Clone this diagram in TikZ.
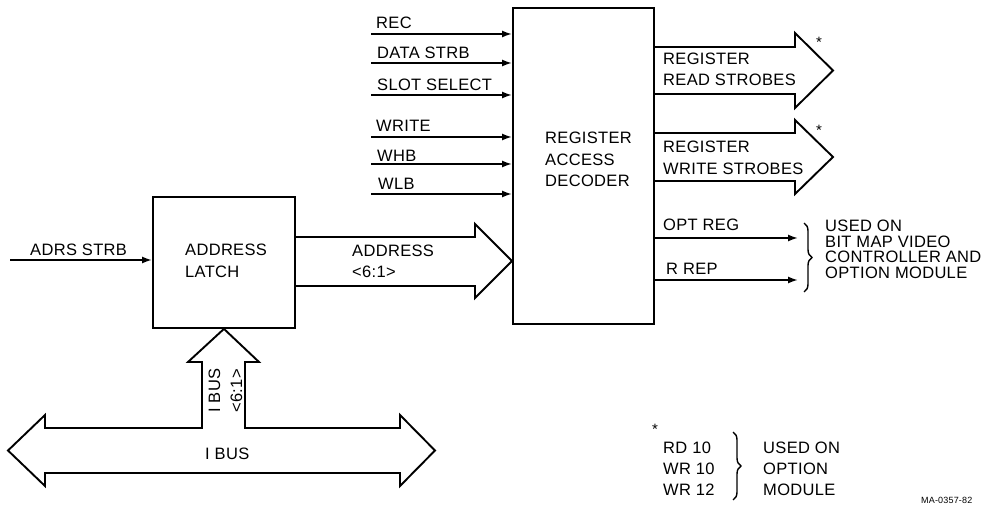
\documentclass[tikz,border=0pt]{standalone}
\usepackage{fontspec}
\setmainfont{Liberation Sans}[LetterSpace=2]
\usetikzlibrary{arrows.meta,decorations.pathreplacing}
\begin{document}
\begin{tikzpicture}[x=1pt,y=-1pt,
  txt/.style={font=\fontsize{16.5}{20}\selectfont, inner sep=0pt, anchor=base west},
  star/.style={font=\fontsize{15}{15}\selectfont, inner sep=0pt},
  box/.style={draw, line width=1.9pt, inner sep=0pt, anchor=north west},
  sig/.style={line width=1.7pt, -{Latex[length=10pt,width=7pt]}},
  bus/.style={draw, line width=1.9pt, line join=miter},
  brc/.style={decorate, decoration={brace, amplitude=8pt}, line width=1.4pt}]
\useasboundingbox (0,0) rectangle (991,505);

% blocks
\node[box, minimum width=142pt, minimum height=131pt] (latch) at (152,196) {};
\node[box, minimum width=141pt, minimum height=316pt] (dec) at (512,7) {};

% decoder inputs
\coordinate (iREC) at (371,34);
\coordinate (iDS) at (371,63);
\coordinate (iSS) at (371,95);
\coordinate (iWR) at (371,137);
\coordinate (iWHB) at (371,164);
\coordinate (iWLB) at (371,194);
\foreach \c in {iREC,iDS,iSS,iWR,iWHB,iWLB}
  \draw[sig] (\c) -- (\c -| dec.west);
\node[txt] (tREC) at (376,29) {REC};
\node[txt] (tDS) at (377,59) {DATA STRB};
\node[txt] (tSS) at (377,91) {SLOT SELECT};
\node[txt] (tWR) at (376,132) {WRITE};
\node[txt] (tWHB) at (377,162) {WHB};
\node[txt] (tWLB) at (378,190) {WLB};

% latch input
\coordinate (iADRS) at (10,260);
\draw[sig] (iADRS) -- (iADRS -| latch.west);
\node[txt] (tADRS) at (30,255) {ADRS STRB};

% block texts
\node[txt] (tL1) at (185,256) {ADDRESS};
\node[txt] (tL2) at (185,277) {LATCH};
\node[txt] (tD1) at (545,144) {REGISTER};
\node[txt] (tD2) at (545,166) {ACCESS};
\node[txt] (tD3) at (545,187) {DECODER};

% address bus arrow
\draw[bus] (latch.east |- 0,237) -- (475,237) -- (475,224) -- (dec.west |- 0,261)
  -- (475,298) -- (475,286) -- (latch.east |- 0,286);
\node[txt] (tA1) at (352,257) {ADDRESS};
\node[txt] (tA2) at (352,278) {<6:1>};

% read / write strobes
\draw[bus] (dec.east |- 0,47) -- (795,47) -- (795,33) -- (833,70.5)
  -- (795,108) -- (795,94) -- (dec.east |- 0,94);
\draw[bus] (dec.east |- 0,133) -- (795,133) -- (795,120) -- (833,157)
  -- (795,194) -- (795,181) -- (dec.east |- 0,181);
\node[txt] (tR1) at (663,65) {REGISTER};
\node[txt] (tR2) at (663,86) {READ STROBES};
\node[txt] (tW1) at (663,153) {REGISTER};
\node[txt] (tW2) at (663,175) {WRITE STROBES};
\node[star] (s1) at (819,42) {*};
\node[star] (s2) at (819,130) {*};

% OPT REG, R REP
\coordinate (oOPT) at (798,238);
\coordinate (oREP) at (798,280);
\draw[sig] (oOPT -| dec.east) -- (oOPT);
\draw[sig] (oREP -| dec.east) -- (oREP);
\node[txt] (tOPT) at (663,231) {OPT REG};
\node[txt] (tREP) at (666,275) {R REP};
\draw[brc] (804,223) -- (804,292);
\node[txt] (u1) at (825,232) {USED ON};
\node[txt] (u2) at (825,247.5) {BIT MAP VIDEO};
\node[txt] (u3) at (825,263) {CONTROLLER AND};
\node[txt] (u4) at (825,278.5) {OPTION MODULE};

% I BUS
\draw[bus] (202,428) -- (202,362) -- (188,362) -- (latch.south) -- (259,362)
  -- (245,362) -- (245,428) -- (400,428) -- (400,415) -- (435,450.5)
  -- (400,486) -- (400,473) -- (45,473) -- (45,486) -- (8,450.5)
  -- (45,415) -- (45,428) -- cycle;
\node[txt] (tIB) at (205,459) {I BUS};
\node[txt, rotate=90] (tIBv1) at (220,413) {I BUS};
\node[txt, rotate=90] (tIBv2) at (242,413) {<6:1>};

% legend
\node[star] (s3) at (655,429) {*};
\node[txt] (g1) at (663,453) {RD 10};
\node[txt] (g2) at (663,474) {WR 10};
\node[txt] (g3) at (663,495) {WR 12};
\draw[brc] (733,432) -- (733,500);
\node[txt] (h1) at (763,453) {USED ON};
\node[txt] (h2) at (763,474) {OPTION};
\node[txt] (h3) at (763,495) {MODULE};

\node[font=\fontsize{9}{10}\selectfont, inner sep=0pt, anchor=base west] (ma) at (921,503) {MA-0357-82};
\end{tikzpicture}
\end{document}
